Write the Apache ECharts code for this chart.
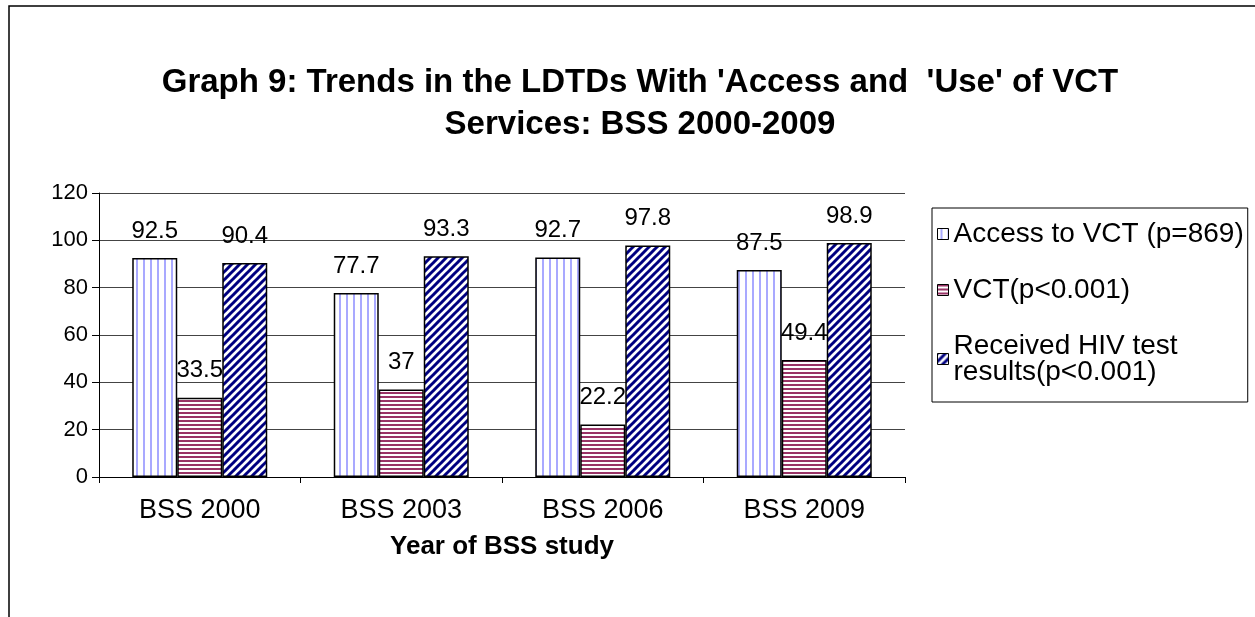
<!DOCTYPE html>
<html>
<head>
<meta charset="utf-8">
<script src="https://cdn.jsdelivr.net/npm/echarts@6/dist/echarts.min.js"></script>
<style>
html,body{margin:0;padding:0;background:#fff;}
#main{width:1255px;height:617px;}
</style>
</head>
<body>
<div id="main"></div>
<script>
var categories = ['BSS 2000', 'BSS 2003', 'BSS 2006', 'BSS 2009'];
var seriesNames = ['Access to VCT (p=869)', 'VCT(p<0.001)', 'Received HIV test\nresults(p<0.001)'];
var accessVCT = [92.5, 77.7, 92.7, 87.5];
var vct = [33.5, 37, 22.2, 49.4];
var receivedResults = [90.4, 93.3, 97.8, 98.9];
var yTicks = [0, 20, 40, 60, 80, 100, 120];

function makeCanvas(w, h, draw) {
  var c = document.createElement('canvas');
  c.width = w; c.height = h;
  var ctx = c.getContext('2d');
  ctx.fillStyle = '#ffffff';
  ctx.fillRect(0, 0, w, h);
  draw(ctx, w, h);
  return c;
}
var vertPattern = makeCanvas(7, 8, function (ctx) {
  ctx.fillStyle = '#a9a9ff';
  ctx.fillRect(3, 0, 2, 8);
});
var horizPattern = makeCanvas(8, 4, function (ctx) {
  ctx.fillStyle = '#993366';
  ctx.fillRect(0, 0, 8, 2);
});
var diagPattern = makeCanvas(8, 8, function (ctx, w, h) {
  ctx.strokeStyle = '#000080';
  ctx.lineWidth = 3;
  ctx.beginPath();
  for (var k = -2; k <= 2; k++) {
    ctx.moveTo(k * 8 - 1, h + 1);
    ctx.lineTo(k * 8 + w + 1, -1);
  }
  ctx.stroke();
});

var patterns = [vertPattern, horizPattern, diagPattern];
var dataSets = [accessVCT, vct, receivedResults];

var font = 'Liberation Sans, Arial, sans-serif';
var series = dataSets.map(function (d, i) {
  return {
    name: seriesNames[i],
    type: 'bar',
    data: d,
    barGap: '0%',
    barCategoryGap: '33%',
    itemStyle: {
      color: { image: patterns[i], repeat: 'repeat' },
      borderColor: '#000',
      borderWidth: 1.5
    },
    label: {
      show: true,
      position: 'top',
      distance: 15,
      color: '#000',
      fontFamily: font,
      fontSize: 24
    },
    emphasis: { disabled: true }
  };
});

var chart = echarts.init(document.getElementById('main'), null, { renderer: 'canvas' });
chart.setOption({
  animation: false,
  backgroundColor: '#fff',
  title: {
    text: "Graph 9: Trends in the LDTDs With 'Access and  'Use' of VCT\nServices: BSS 2000-2009",
    left: 635,
    textAlign: 'center',
    top: 57,
    textStyle: {
      fontFamily: font,
      fontWeight: 'bold',
      fontSize: 33,
      lineHeight: 42,
      color: '#000'
    }
  },
  graphic: [{
    type: 'rect',
    shape: { x: 9, y: 6, width: 1300, height: 700 },
    style: { fill: null, stroke: '#000', lineWidth: 1.5 },
    silent: true
  }],
  legend: {
    orient: 'vertical',
    left: 932,
    top: 208,
    itemGap: 28,
    itemWidth: 11,
    itemHeight: 11,
    icon: 'rect',
    padding: [12, 4, 16, 5],
    borderColor: '#000',
    borderWidth: 1,
    textStyle: { fontFamily: font, fontSize: 28, color: '#000', lineHeight: 26 },
    itemStyle: { borderColor: '#000', borderWidth: 1 },
    data: seriesNames
  },
  grid: {
    left: 99,
    right: 350,
    top: 193,
    bottom: 140,
    containLabel: false
  },
  xAxis: {
    type: 'category',
    data: categories,
    axisLine: { lineStyle: { color: '#000', width: 1 } },
    axisTick: { show: true, length: 6, lineStyle: { color: '#000' } },
    axisLabel: { fontFamily: font, fontSize: 27, color: '#000', margin: 20 },
    name: 'Year of BSS study',
    nameLocation: 'middle',
    nameGap: 57,
    nameTextStyle: { fontFamily: font, fontSize: 26, fontWeight: 'bold', color: '#000' }
  },
  yAxis: {
    type: 'value',
    min: yTicks[0],
    max: yTicks[yTicks.length - 1],
    interval: 20,
    axisLine: { show: true, lineStyle: { color: '#000', width: 1 } },
    axisTick: { show: true, length: 7, lineStyle: { color: '#000' } },
    axisLabel: { fontFamily: font, fontSize: 22, color: '#000', margin: 11 },
    splitLine: { show: true, lineStyle: { color: '#444', width: 1 } }
  },
  series: series
});
</script>
</body>
</html>
